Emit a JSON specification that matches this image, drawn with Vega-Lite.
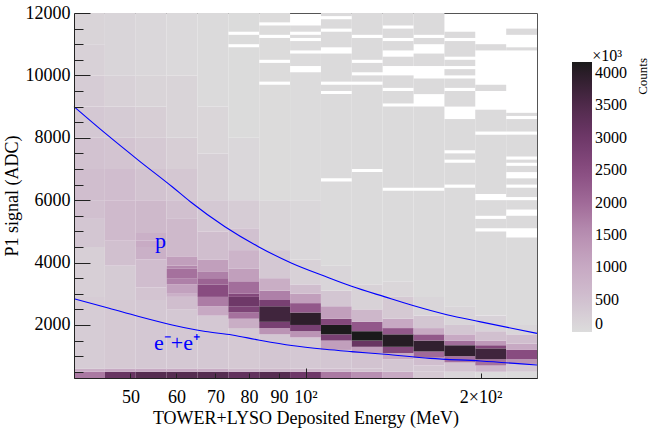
{
  "$schema": "https://vega.github.io/schema/vega-lite/v6.json",
  "width": 463,
  "height": 365,
  "autosize": "none",
  "padding": {"left": 74, "top": 13, "right": 112, "bottom": 52},
  "background": "white",
  "config": {
    "font": "Liberation Serif",
    "view": {"stroke": "#555555", "strokeWidth": 1},
    "axis": {"grid": false, "zindex": 1, "domainColor": "#222222", "tickColor": "#222222", "tickWidth": 1, "labelColor": "black", "titleColor": "black", "labelFont": "Liberation Serif", "titleFont": "Liberation Serif", "titleFontWeight": "normal"}
  },
  "resolve": {"axis": {"x": "independent", "y": "independent"}},
  "datasets": {
    "bins": [
      {"c": 1, "lo": 40, "hi": 45.2}, {"c": 2, "lo": 45.2, "hi": 51.07}, {"c": 3, "lo": 51.07, "hi": 57.71},
      {"c": 4, "lo": 57.71, "hi": 65.21}, {"c": 5, "lo": 65.21, "hi": 73.68}, {"c": 6, "lo": 73.68, "hi": 83.26},
      {"c": 7, "lo": 83.26, "hi": 94.08}, {"c": 8, "lo": 94.08, "hi": 106.3}, {"c": 9, "lo": 106.3, "hi": 120.1},
      {"c": 10, "lo": 120.1, "hi": 135.7}, {"c": 11, "lo": 135.7, "hi": 153.4}, {"c": 12, "lo": 153.4, "hi": 173.3},
      {"c": 13, "lo": 173.3, "hi": 195.8}, {"c": 14, "lo": 195.8, "hi": 221.3}, {"c": 15, "lo": 221.3, "hi": 250}
    ],
    "cells": [
      {"c":1,"y":300,"y2":500,"v":1800},{"c":1,"y":500,"y2":600,"v":900},{"c":1,"y":600,"y2":2900,"v":280},{"c":1,"y":2900,"y2":4500,"v":240},{"c":1,"y":4500,"y2":5400,"v":400},{"c":1,"y":5400,"y2":6000,"v":500},{"c":1,"y":6000,"y2":7000,"v":550},{"c":1,"y":7000,"y2":8000,"v":460},{"c":1,"y":8000,"y2":9000,"v":360},{"c":1,"y":9000,"y2":10000,"v":280},{"c":1,"y":10000,"y2":11000,"v":200},{"c":1,"y":11000,"y2":12000,"v":150},
      {"c":2,"y":300,"y2":500,"v":3100},{"c":2,"y":500,"y2":600,"v":1000},{"c":2,"y":600,"y2":2800,"v":330},{"c":2,"y":2800,"y2":3900,"v":300},{"c":2,"y":3900,"y2":4700,"v":500},{"c":2,"y":4700,"y2":6000,"v":620},{"c":2,"y":6000,"y2":7000,"v":560},{"c":2,"y":7000,"y2":8000,"v":420},{"c":2,"y":8000,"y2":9000,"v":300},{"c":2,"y":9000,"y2":10000,"v":200},{"c":2,"y":10000,"y2":12000,"v":120},
      {"c":3,"y":300,"y2":500,"v":3400},{"c":3,"y":500,"y2":600,"v":1000},{"c":3,"y":600,"y2":2800,"v":350},{"c":3,"y":2800,"y2":3200,"v":420},{"c":3,"y":3200,"y2":4100,"v":560},{"c":3,"y":4100,"y2":4500,"v":850},{"c":3,"y":4500,"y2":4700,"v":950},{"c":3,"y":4700,"y2":4950,"v":850},{"c":3,"y":4950,"y2":6000,"v":650},{"c":3,"y":6000,"y2":7000,"v":450},{"c":3,"y":7000,"y2":8000,"v":340},{"c":3,"y":8000,"y2":9000,"v":250},{"c":3,"y":9000,"y2":10000,"v":150},{"c":3,"y":10000,"y2":12000,"v":80},
      {"c":4,"y":300,"y2":500,"v":3400},{"c":4,"y":500,"y2":600,"v":1000},{"c":4,"y":600,"y2":2500,"v":350},{"c":4,"y":2500,"y2":2900,"v":550},{"c":4,"y":2900,"y2":3000,"v":850},{"c":4,"y":3000,"y2":3300,"v":1150},{"c":4,"y":3300,"y2":3500,"v":1700},{"c":4,"y":3500,"y2":3800,"v":1900},{"c":4,"y":3800,"y2":3900,"v":1600},{"c":4,"y":3900,"y2":4200,"v":1200},{"c":4,"y":4200,"y2":5400,"v":650},{"c":4,"y":5400,"y2":6000,"v":500},{"c":4,"y":6000,"y2":7000,"v":380},{"c":4,"y":7000,"y2":8000,"v":250},{"c":4,"y":8000,"y2":10000,"v":150},{"c":4,"y":10000,"y2":12000,"v":50},
      {"c":5,"y":300,"y2":500,"v":3400},{"c":5,"y":500,"y2":600,"v":950},{"c":5,"y":600,"y2":2300,"v":350},{"c":5,"y":2300,"y2":2600,"v":1000},{"c":5,"y":2600,"y2":2900,"v":1750},{"c":5,"y":2900,"y2":3300,"v":2500},{"c":5,"y":3300,"y2":3500,"v":2100},{"c":5,"y":3500,"y2":3700,"v":1700},{"c":5,"y":3700,"y2":4100,"v":1200},{"c":5,"y":4100,"y2":5000,"v":550},{"c":5,"y":5000,"y2":6000,"v":350},{"c":5,"y":6000,"y2":7500,"v":220},{"c":5,"y":7500,"y2":9000,"v":100},{"c":5,"y":9000,"y2":12000,"v":30},
      {"c":6,"y":300,"y2":500,"v":3200},{"c":6,"y":500,"y2":600,"v":700},{"c":6,"y":600,"y2":1900,"v":330},{"c":6,"y":1900,"y2":2200,"v":900},{"c":6,"y":2200,"y2":2400,"v":1900},{"c":6,"y":2400,"y2":2600,"v":2700},{"c":6,"y":2600,"y2":2900,"v":3000},{"c":6,"y":2900,"y2":3000,"v":2600},{"c":6,"y":3000,"y2":3400,"v":1950},{"c":6,"y":3400,"y2":3800,"v":1200},{"c":6,"y":3800,"y2":4400,"v":750},{"c":6,"y":4400,"y2":5100,"v":480},{"c":6,"y":5100,"y2":6000,"v":280},{"c":6,"y":6000,"y2":8000,"v":80},{"c":6,"y":8000,"y2":10900,"v":25},{"c":6,"y":11000,"y2":11300,"v":25},{"c":6,"y":11400,"y2":12000,"v":25},
      {"c":7,"y":300,"y2":500,"v":3400},{"c":7,"y":500,"y2":600,"v":700},{"c":7,"y":600,"y2":1700,"v":400},{"c":7,"y":1700,"y2":1900,"v":1400},{"c":7,"y":1900,"y2":2100,"v":2800},{"c":7,"y":2100,"y2":2600,"v":3700},{"c":7,"y":2600,"y2":2800,"v":2800},{"c":7,"y":2800,"y2":3100,"v":1700},{"c":7,"y":3100,"y2":3500,"v":900},{"c":7,"y":3500,"y2":4400,"v":350},{"c":7,"y":4400,"y2":6000,"v":150},{"c":7,"y":6000,"y2":9700,"v":20},{"c":7,"y":9800,"y2":10400,"v":20},{"c":7,"y":10500,"y2":11200,"v":20},{"c":7,"y":11300,"y2":11600,"v":20},{"c":7,"y":11700,"y2":12000,"v":20},
      {"c":8,"y":300,"y2":500,"v":3000},{"c":8,"y":500,"y2":600,"v":700},{"c":8,"y":600,"y2":1600,"v":350},{"c":8,"y":1600,"y2":1800,"v":1400},{"c":8,"y":1800,"y2":2000,"v":2800},{"c":8,"y":2000,"y2":2400,"v":3950},{"c":8,"y":2400,"y2":2700,"v":2300},{"c":8,"y":2700,"y2":3000,"v":1200},{"c":8,"y":3000,"y2":3300,"v":550},{"c":8,"y":3300,"y2":4100,"v":200},{"c":8,"y":4100,"y2":6000,"v":80},{"c":8,"y":6000,"y2":10100,"v":15},{"c":8,"y":10300,"y2":10700,"v":15},{"c":8,"y":10800,"y2":11100,"v":15},{"c":8,"y":11200,"y2":11300,"v":15},{"c":8,"y":11400,"y2":11600,"v":15},
      {"c":9,"y":300,"y2":500,"v":1800},{"c":9,"y":500,"y2":600,"v":600},{"c":9,"y":600,"y2":1200,"v":400},{"c":9,"y":1200,"y2":1500,"v":1200},{"c":9,"y":1500,"y2":1700,"v":2800},{"c":9,"y":1700,"y2":2000,"v":4150},{"c":9,"y":2000,"y2":2200,"v":2600},{"c":9,"y":2200,"y2":2600,"v":1200},{"c":9,"y":2600,"y2":3100,"v":400},{"c":9,"y":3100,"y2":3900,"v":120},{"c":9,"y":3900,"y2":6600,"v":30},{"c":9,"y":6700,"y2":9400,"v":30},{"c":9,"y":9500,"y2":9700,"v":30},{"c":9,"y":9800,"y2":10700,"v":30},{"c":9,"y":10900,"y2":11400,"v":30},{"c":9,"y":11500,"y2":11800,"v":30},{"c":9,"y":11900,"y2":12000,"v":30},
      {"c":10,"y":300,"y2":500,"v":1500},{"c":10,"y":500,"y2":600,"v":450},{"c":10,"y":600,"y2":1100,"v":450},{"c":10,"y":1100,"y2":1300,"v":1200},{"c":10,"y":1300,"y2":1500,"v":3100},{"c":10,"y":1500,"y2":1800,"v":4170},{"c":10,"y":1800,"y2":2100,"v":2300},{"c":10,"y":2100,"y2":2500,"v":700},{"c":10,"y":2500,"y2":3300,"v":180},{"c":10,"y":3300,"y2":6900,"v":30},{"c":10,"y":7000,"y2":9700,"v":30},{"c":10,"y":9800,"y2":10000,"v":30},{"c":10,"y":10100,"y2":10400,"v":30},{"c":10,"y":10500,"y2":11200,"v":30},{"c":10,"y":11300,"y2":12000,"v":30},
      {"c":11,"y":300,"y2":500,"v":1000},{"c":11,"y":500,"y2":900,"v":400},{"c":11,"y":900,"y2":1100,"v":1000},{"c":11,"y":1100,"y2":1300,"v":2600},{"c":11,"y":1300,"y2":1700,"v":4050},{"c":11,"y":1700,"y2":1900,"v":2300},{"c":11,"y":1900,"y2":2200,"v":1000},{"c":11,"y":2200,"y2":2900,"v":330},{"c":11,"y":2900,"y2":3400,"v":100},{"c":11,"y":3400,"y2":6300,"v":30},{"c":11,"y":6400,"y2":9000,"v":30},{"c":11,"y":9100,"y2":9500,"v":30},{"c":11,"y":9600,"y2":10000,"v":30},{"c":11,"y":10300,"y2":10600,"v":30},{"c":11,"y":10800,"y2":11100,"v":30},{"c":11,"y":11200,"y2":11500,"v":30},{"c":11,"y":11600,"y2":12000,"v":30},
      {"c":12,"y":300,"y2":500,"v":330},{"c":12,"y":500,"y2":700,"v":350},{"c":12,"y":700,"y2":950,"v":550},{"c":12,"y":950,"y2":1150,"v":2000},{"c":12,"y":1150,"y2":1500,"v":3900},{"c":12,"y":1500,"y2":1700,"v":2300},{"c":12,"y":1700,"y2":1900,"v":1000},{"c":12,"y":1900,"y2":2300,"v":400},{"c":12,"y":2300,"y2":2900,"v":130},{"c":12,"y":2900,"y2":6300,"v":30},{"c":12,"y":6400,"y2":9000,"v":30},{"c":12,"y":9400,"y2":9900,"v":30},{"c":12,"y":10300,"y2":10700,"v":30},{"c":12,"y":11000,"y2":11200,"v":30},{"c":12,"y":11300,"y2":12000,"v":30},
      {"c":13,"y":300,"y2":500,"v":120},{"c":13,"y":500,"y2":800,"v":450},{"c":13,"y":800,"y2":1000,"v":1900},{"c":13,"y":1000,"y2":1350,"v":3900},{"c":13,"y":1350,"y2":1500,"v":1950},{"c":13,"y":1500,"y2":1700,"v":1000},{"c":13,"y":1700,"y2":2000,"v":400},{"c":13,"y":2000,"y2":2600,"v":120},{"c":13,"y":2600,"y2":6400,"v":30},{"c":13,"y":6500,"y2":7200,"v":30},{"c":13,"y":7300,"y2":7500,"v":30},{"c":13,"y":7600,"y2":8600,"v":30},{"c":13,"y":9000,"y2":9500,"v":30},{"c":13,"y":9600,"y2":9900,"v":30},{"c":13,"y":10000,"y2":10200,"v":30},{"c":13,"y":10300,"y2":10500,"v":30},{"c":13,"y":10600,"y2":11100,"v":30},{"c":13,"y":11200,"y2":11400,"v":30},
      {"c":14,"y":300,"y2":500,"v":40},{"c":14,"y":500,"y2":700,"v":700},{"c":14,"y":700,"y2":900,"v":1900},{"c":14,"y":900,"y2":1250,"v":3700},{"c":14,"y":1250,"y2":1350,"v":2600},{"c":14,"y":1350,"y2":1500,"v":1300},{"c":14,"y":1500,"y2":1800,"v":500},{"c":14,"y":1800,"y2":2300,"v":170},{"c":14,"y":2300,"y2":5000,"v":30},{"c":14,"y":5100,"y2":5400,"v":30},{"c":14,"y":5500,"y2":6000,"v":30},{"c":14,"y":6200,"y2":8100,"v":30},{"c":14,"y":8200,"y2":8900,"v":30},{"c":14,"y":9500,"y2":9700,"v":30},{"c":14,"y":10800,"y2":11000,"v":30},
      {"c":15,"y":300,"y2":500,"v":40},{"c":15,"y":500,"y2":750,"v":350},{"c":15,"y":750,"y2":900,"v":1400},{"c":15,"y":900,"y2":1200,"v":2500},{"c":15,"y":1200,"y2":1400,"v":1000},{"c":15,"y":1400,"y2":1700,"v":550},{"c":15,"y":1700,"y2":2000,"v":130},{"c":15,"y":2000,"y2":4800,"v":30},{"c":15,"y":5100,"y2":5500,"v":30},{"c":15,"y":5700,"y2":6000,"v":30},{"c":15,"y":6100,"y2":6400,"v":30},{"c":15,"y":6500,"y2":6700,"v":30},{"c":15,"y":6900,"y2":7100,"v":30},{"c":15,"y":7200,"y2":7300,"v":30},{"c":15,"y":7400,"y2":8100,"v":30},{"c":15,"y":8200,"y2":8600,"v":30},{"c":15,"y":8700,"y2":8800,"v":30},{"c":15,"y":10800,"y2":10900,"v":30},{"c":15,"y":11300,"y2":11500,"v":30}
    ],
    "curves": [
      {"curve":"p","x":40,"y":9000},{"curve":"p","x":45.3,"y":8140},{"curve":"p","x":51.7,"y":7270},{"curve":"p","x":59,"y":6430},{"curve":"p","x":63.4,"y":5950},{"curve":"p","x":72.7,"y":5150},{"curve":"p","x":83,"y":4510},{"curve":"p","x":94.7,"y":3980},{"curve":"p","x":108,"y":3560},{"curve":"p","x":120,"y":3240},{"curve":"p","x":137,"y":2900},{"curve":"p","x":153,"y":2625},{"curve":"p","x":175,"y":2330},{"curve":"p","x":200,"y":2100},{"curve":"p","x":250,"y":1730},
      {"curve":"e","x":40,"y":2840},{"curve":"e","x":45.3,"y":2570},{"curve":"e","x":51.7,"y":2270},{"curve":"e","x":59,"y":2000},{"curve":"e","x":67.3,"y":1790},{"curve":"e","x":74.8,"y":1680},{"curve":"e","x":83,"y":1520},{"curve":"e","x":94.7,"y":1340},{"curve":"e","x":108,"y":1220},{"curve":"e","x":120,"y":1145},{"curve":"e","x":137,"y":1060},{"curve":"e","x":163.7,"y":930},{"curve":"e","x":200,"y":845},{"curve":"e","x":250,"y":717}
    ],
    "notes": [
      {"x": 55.1, "y": 4467, "t": "p"},
      {"x": 54.9, "y": 1198, "t": "e⁻+e⁺"}
    ],
    "mult": [
      {"x": 311, "y": 10462, "t": "×10³"}
    ],
    "ztitle": [
      {"x": 380, "y": 10558, "t": "Counts"}
    ]
  },
  "layer": [
    {
      "data": {"name": "cells"},
      "transform": [{"lookup": "c", "from": {"data": {"name": "bins"}, "key": "c", "fields": ["lo", "hi"]}}],
      "mark": {"type": "rect", "stroke": null},
      "encoding": {
        "x": {"field": "lo", "type": "quantitative", "scale": {"type": "log", "domain": [40, 250], "nice": false},
          "axis": {"orient": "bottom", "zindex": 2, "title": "TOWER+LYSO Deposited Energy (MeV)", "titleFontSize": 18, "titlePadding": 3, "labelFontSize": 18, "values": [50, 60, 70, 80, 90, 100, 200],
            "labelExpr": "datum.value == 100 ? '10²' : (datum.value == 200 ? '2×10²' : datum.label)", "labelOverlap": false, "labelFlush": false,
            "labelPadding": 15, "tickSize": -5}},
        "x2": {"field": "hi"},
        "y": {"field": "y", "type": "quantitative", "scale": {"domain": [300, 12000], "nice": false, "zero": false},
          "axis": {"orient": "left", "zindex": 2, "title": "P1 signal (ADC)", "titleFontSize": 18, "titlePadding": 4, "labelFontSize": 18, "values": [2000, 4000, 6000, 8000, 10000, 12000],
            "format": "d", "labelOverlap": false, "labelFlush": false, "labelPadding": 20, "tickSize": -16}},
        "y2": {"field": "y2"},
        "color": {"field": "v", "type": "quantitative",
          "scale": {"domain": [0, 500, 1000, 1500, 2000, 2500, 3000, 3500, 4000, 4170],
            "range": ["#dcdcdc", "#d1c0cf", "#c7a9c3", "#b88fb2", "#a06a98", "#884c80", "#6e3868", "#502a4c", "#2a1d28", "#1a1a1a"]},
          "legend": {"orient": "none", "legendX": 498, "legendY": 49, "padding": 0, "direction": "vertical",
            "gradientLength": 270, "gradientThickness": 20, "gradientStrokeWidth": 0, "format": "d",
            "values": [0, 500, 1000, 1500, 2000, 2500, 3000, 3500, 4000], "labelFontSize": 16, "labelFont": "Liberation Serif", "labelColor": "black", "labelOverlap": false, "labelOffset": 3,
            "title": null}}
      }
    },
    {
      "data": {"name": "curves"},
      "mark": {"type": "line", "color": "#0000ff", "strokeWidth": 1.1, "interpolate": "monotone"},
      "encoding": {
        "x": {"field": "x", "type": "quantitative",
          "axis": {"orient": "bottom", "zindex": 2, "title": null, "labels": false, "domain": false, "values": [100], "tickSize": -10}},
        "y": {"field": "y", "type": "quantitative",
          "axis": {"orient": "left", "zindex": 2, "title": null, "labels": false, "domain": false, "values": [500, 1000, 1500, 2500, 3000, 3500, 4500, 5000, 5500, 6500, 7000, 7500, 8500, 9000, 9500, 10500, 11000, 11500], "tickSize": -9}},
        "detail": {"field": "curve"}
      }
    },
    {
      "data": {"name": "notes"},
      "mark": {"type": "text", "color": "#0000ff", "fontSize": 22, "align": "left", "baseline": "alphabetic", "font": "Liberation Serif"},
      "encoding": {
        "x": {"field": "x", "type": "quantitative", "axis": null},
        "y": {"field": "y", "type": "quantitative", "axis": null},
        "text": {"field": "t"}
      }
    },
    {
      "data": {"name": "mult"},
      "mark": {"type": "text", "color": "black", "fontSize": 16, "align": "left", "baseline": "alphabetic", "font": "Liberation Serif", "clip": false},
      "encoding": {
        "x": {"field": "x", "type": "quantitative", "axis": null},
        "y": {"field": "y", "type": "quantitative", "axis": null},
        "text": {"field": "t"}
      }
    },
    {
      "data": {"name": "ztitle"},
      "mark": {"type": "text", "color": "black", "fontSize": 13, "angle": 270, "align": "right", "baseline": "middle", "font": "Liberation Serif", "clip": false},
      "encoding": {
        "x": {"field": "x", "type": "quantitative", "axis": null},
        "y": {"field": "y", "type": "quantitative", "axis": null},
        "text": {"field": "t"}
      }
    }
  ]
}
